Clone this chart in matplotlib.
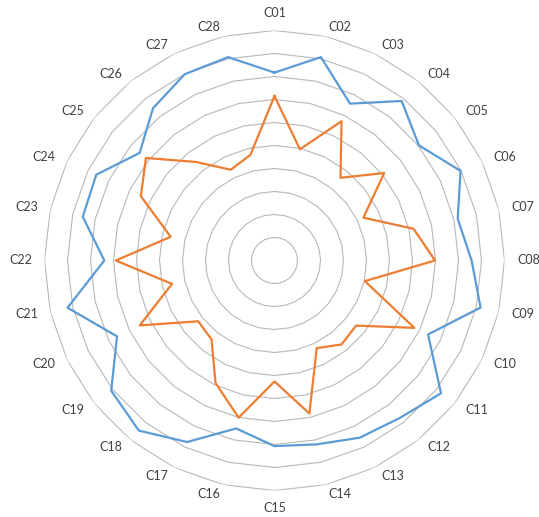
import numpy as np
import matplotlib
matplotlib.use("Agg")
import matplotlib.pyplot as plt

categories = ["C%02d" % i for i in range(1, 29)]
series_blue = [8.17, 9.07, 7.57, 8.87, 8.03, 8.98, 8.17, 8.57, 9.19, 7.41,
               9.26, 8.75, 8.55, 8.2, 8.07, 7.49, 8.76, 9.46, 9.08, 7.6,
               9.23, 7.4, 8.55, 8.6, 7.5, 8.47, 8.99, 9.07]
series_orange = [7.15, 4.96, 6.72, 4.6, 6.1, 4.29, 6.2, 6.98, 4.03, 6.75,
                 4.54, 4.67, 4.23, 6.82, 5.26, 7.01, 5.91, 4.39, 4.24, 6.5,
                 4.57, 6.9, 4.63, 6.45, 7.15, 5.48, 4.38, 4.71]
ring_levels = list(range(1, 11))

plt.rcParams['font.family'] = ['Lato', 'DejaVu Sans']

W, H = 539, 517
fig = plt.figure(figsize=(W / 100, H / 100), dpi=100)
R_px = 230.0
cx, cy = 274.5, 260.5
ax = fig.add_axes([(cx - R_px) / W, 1 - (cy + R_px) / H, 2 * R_px / W, 2 * R_px / H],
                  projection='polar')
ax.set_theta_zero_location('N')
ax.set_theta_direction(-1)
ax.set_ylim(0, 10)
ax.grid(False)
ax.spines['polar'].set_visible(False)
ax.set_xticks([])
ax.set_yticks([])
ax.patch.set_alpha(0)

n = len(categories)
theta = np.arange(n) * 2 * np.pi / n
theta_c = np.append(theta, theta[0])

for lv in ring_levels:
    ax.plot(theta_c, [lv] * (n + 1), color='#b8b8b8', lw=0.8, zorder=1)

ax.plot(theta_c, series_blue + series_blue[:1], color='#5B9BD5', lw=1.6, zorder=3)
ax.plot(theta_c, series_orange + series_orange[:1], color='#ED7D31', lw=1.6, zorder=3)

for t, lab in zip(theta, categories):
    s, c = np.sin(t), np.cos(t)
    if abs(s) < 1e-6:
        dx, dy = 0.0, 17.5 * np.sign(c)
    else:
        dx = 24 * np.sign(s) * abs(s) ** (1 / 3)
        dy = 9 * c
    ax.annotate(lab, xy=(t, ring_levels[-1]), xytext=(dx, dy),
                textcoords='offset pixels', ha='center', va='center',
                fontsize=9, color='#404040', annotation_clip=False)

fig.savefig('out.png', dpi=100)
